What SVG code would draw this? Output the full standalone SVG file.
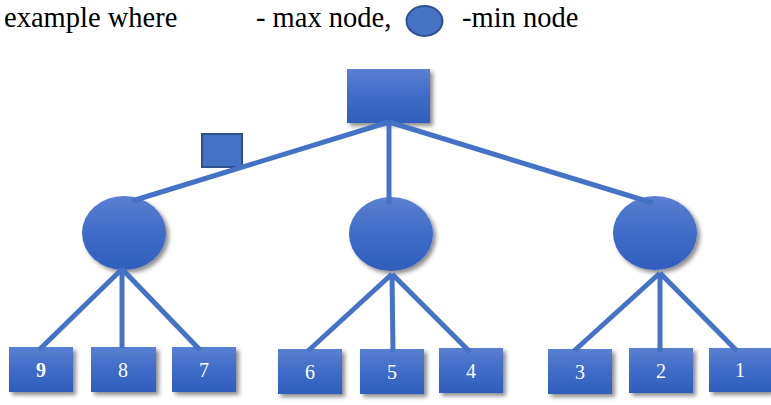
<svg xmlns="http://www.w3.org/2000/svg" width="771" height="405" viewBox="0 0 771 405">
  <style>
    .legend { font-family: "Liberation Serif", "Times New Roman", serif; font-size: 28.5px; fill: #000; }
    .node { fill: url(#blueFill); filter: url(#shadow); }
    .label { font-family: "Liberation Serif", "Times New Roman", serif; font-size: 20px; fill: #fff; text-anchor: middle; }
    .edge { stroke: #4472C4; stroke-width: 5; stroke-linecap: butt; fill: none; }
  </style>
  <defs>
    <linearGradient id="blueFill" x1="0" y1="0" x2="0" y2="1">
      <stop offset="0" stop-color="#5A80D0"/>
      <stop offset="0.5" stop-color="#3F6CC8"/>
      <stop offset="1" stop-color="#2F5EBD"/>
    </linearGradient>
    <filter id="shadow" x="-20%" y="-20%" width="150%" height="150%">
      <feDropShadow dx="3" dy="3" stdDeviation="2.2" flood-color="#000" flood-opacity="0.45"/>
    </filter>
  </defs>

  <rect width="771" height="405" fill="#fff"/>

  <!-- legend line -->
  <g id="legend">
    <text class="legend" x="4" y="27">example where</text>
    <text class="legend" x="256" y="27">- max node,</text>
    <ellipse cx="424.5" cy="21" rx="18" ry="15" fill="#4472C4" stroke="#2F528F" stroke-width="2"/>
    <text class="legend" x="462" y="27">-min node</text>
  </g>

  <!-- small square next to the root edge -->
  <g id="legend-square">
    <rect x="202" y="134" width="40" height="33" fill="#4472C4" stroke="#2F528F" stroke-width="2"/>
  </g>

  <!-- max node (root) -->
  <g id="root">
    <rect class="node" x="347" y="69" width="83" height="54"/>
  </g>

  <!-- min nodes -->
  <g id="min-left">
    <ellipse class="node" cx="124" cy="233" rx="42" ry="37"/>
  </g>
  <g id="min-middle">
    <ellipse class="node" cx="391" cy="234" rx="42" ry="37"/>
  </g>
  <g id="min-right">
    <ellipse class="node" cx="655" cy="233" rx="42" ry="37"/>
  </g>

  <!-- leaves -->
  <g id="leaf-9">
    <rect class="node" x="9" y="347" width="64" height="45"/>
    <text class="label" x="41" y="377" font-weight="bold">9</text>
  </g>
  <g id="leaf-8">
    <rect class="node" x="91" y="347" width="65" height="45"/>
    <text class="label" x="123" y="377">8</text>
  </g>
  <g id="leaf-7">
    <rect class="node" x="172" y="347" width="64" height="45"/>
    <text class="label" x="204" y="377">7</text>
  </g>
  <g id="leaf-6">
    <rect class="node" x="278" y="349" width="64" height="45"/>
    <text class="label" x="310" y="379">6</text>
  </g>
  <g id="leaf-5">
    <rect class="node" x="360" y="349" width="64" height="45"/>
    <text class="label" x="392" y="379">5</text>
  </g>
  <g id="leaf-4">
    <rect class="node" x="439" y="348" width="64" height="45"/>
    <text class="label" x="471" y="378">4</text>
  </g>
  <g id="leaf-3">
    <rect class="node" x="548" y="349" width="64" height="45"/>
    <text class="label" x="580" y="379">3</text>
  </g>
  <g id="leaf-2">
    <rect class="node" x="629" y="348" width="64" height="45"/>
    <text class="label" x="661" y="378">2</text>
  </g>
  <g id="leaf-1">
    <rect class="node" x="709" y="348" width="62" height="44"/>
    <text class="label" x="740" y="377">1</text>
  </g>

  <!-- connectors -->
  <g id="edges">
    <line class="edge" x1="389" y1="122" x2="132" y2="201"/>
    <line class="edge" x1="389" y1="122" x2="389" y2="204"/>
    <line class="edge" x1="389" y1="122" x2="653" y2="203"/>

    <line class="edge" x1="122" y1="269" x2="39" y2="350"/>
    <line class="edge" x1="122" y1="269" x2="122" y2="348"/>
    <line class="edge" x1="122" y1="269" x2="200" y2="350"/>

    <line class="edge" x1="392" y1="274" x2="308" y2="351"/>
    <line class="edge" x1="392" y1="274" x2="393" y2="352"/>
    <line class="edge" x1="392" y1="274" x2="470" y2="352"/>

    <line class="edge" x1="660" y1="273" x2="574" y2="351"/>
    <line class="edge" x1="660" y1="273" x2="660" y2="352"/>
    <line class="edge" x1="660" y1="273" x2="737" y2="351"/>
  </g>
</svg>
